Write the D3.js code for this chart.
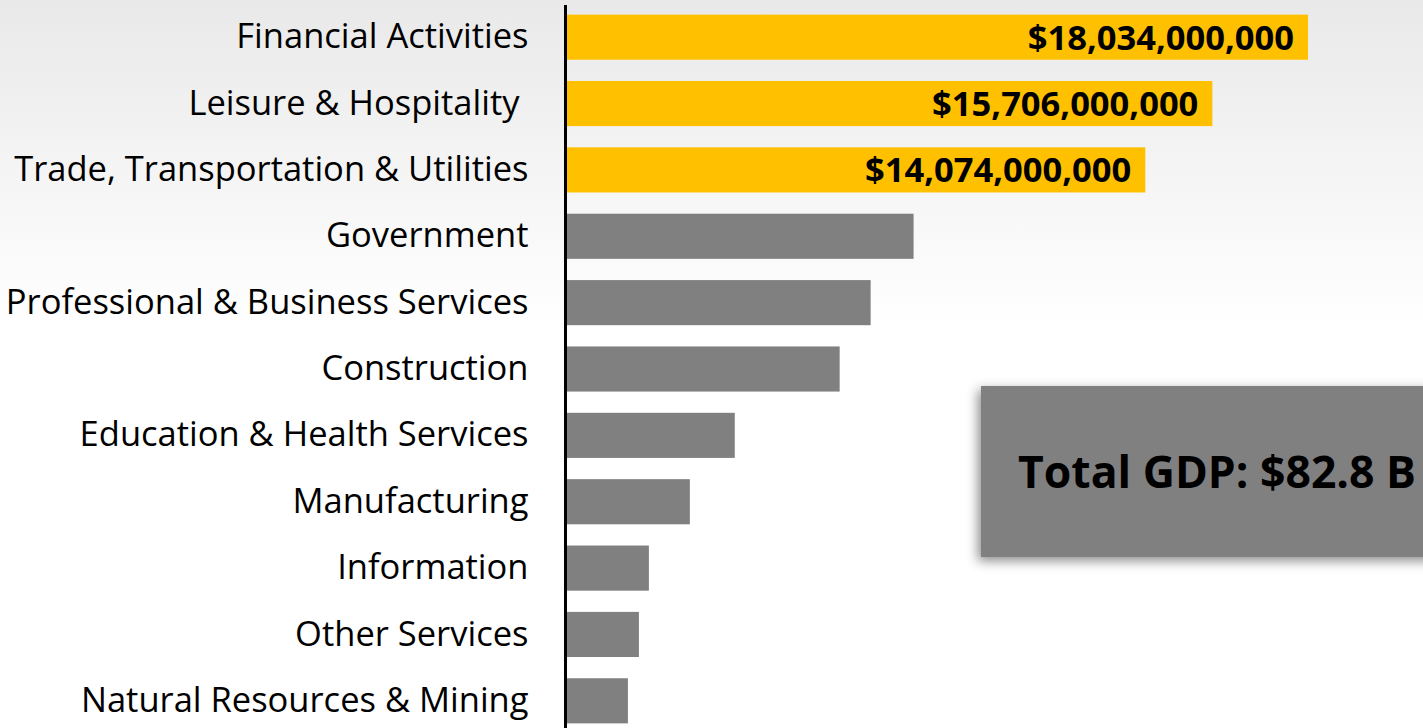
<!DOCTYPE html>
<html>
<head>
<meta charset="utf-8">
<script src="https://cdn.jsdelivr.net/npm/d3@7"></script>
<style>
  body { margin: 0; overflow: hidden; }
</style>
</head>
<body>
<div id="chart"></div>
<script>
// data, in millions of dollars
var sectors = ["Financial Activities", "Leisure & Hospitality ", "Trade, Transportation & Utilities",
  "Government", "Professional & Business Services", "Construction", "Education & Health Services",
  "Manufacturing", "Information", "Other Services", "Natural Resources & Mining"];
var gdp = [18034, 15706, 14074, 8435, 7390, 6636, 4083, 2990, 1993, 1750, 1483];
var highlighted = [true, true, true, false, false, false, false, false, false, false, false];
var totalLabel = "Total GDP: $82.8 B";

var W = 1423, H = 728;
var margin = {top: 4, right: 0, bottom: 0, left: 567};

var svg = d3.select("#chart").append("svg")
    .attr("width", W)
    .attr("height", H);

var defs = svg.append("defs");
var grad = defs.append("linearGradient")
    .attr("id", "bg").attr("x1", 0).attr("y1", 0).attr("x2", 0).attr("y2", 1);
grad.append("stop").attr("offset", "0%").attr("stop-color", "#e9e9e9");
grad.append("stop").attr("offset", "45%").attr("stop-color", "#ffffff");
grad.append("stop").attr("offset", "100%").attr("stop-color", "#ffffff");

var shadow = defs.append("filter").attr("id", "shadow")
    .attr("x", "-20%").attr("y", "-30%").attr("width", "140%").attr("height", "160%");
shadow.append("feDropShadow")
    .attr("dx", -3).attr("dy", 4).attr("stdDeviation", 6)
    .attr("flood-color", "#000").attr("flood-opacity", 0.45);

svg.append("rect").attr("width", W).attr("height", H).attr("fill", "url(#bg)");

var x = d3.scaleLinear().domain([0, 18034]).range([margin.left, 1308]);
var y = d3.scaleBand().domain(sectors).range([margin.top, H + 6]).paddingInner(0.32).paddingOuter(0.16);

// bars
svg.selectAll(".bar")
    .data(sectors)
    .enter().append("rect")
    .attr("class", "bar")
    .attr("x", x(0))
    .attr("y", function(d) { return y(d); })
    .attr("width", function(d, i) { return x(gdp[i]) - x(0); })
    .attr("height", y.bandwidth())
    .attr("fill", function(d, i) { return highlighted[i] ? "#ffc000" : "#808080"; });

// value labels on highlighted bars
svg.selectAll(".val")
    .data(sectors.filter(function(d, i) { return highlighted[i]; }))
    .enter().append("text")
    .attr("x", function(d) { return x(gdp[sectors.indexOf(d)]) - 14; })
    .attr("y", function(d) { return y(d) + y.bandwidth() / 2; })
    .attr("dy", "0.36em")
    .attr("text-anchor", "end")
    .attr("font-family", "Open Sans")
    .attr("font-weight", "bold")
    .attr("font-size", 34.5)
    .attr("fill", "#000")
    .text(function(d) { return "$" + d3.format(",")(gdp[sectors.indexOf(d)] * 1e6); });

// y axis (labels + line)
var yAxis = svg.append("g")
    .attr("transform", "translate(" + (margin.left - 1.5) + ",0)")
    .call(d3.axisLeft(y).tickSize(0).tickPadding(37));
yAxis.select(".domain").attr("d", "M0," + 5 + "V" + H).attr("stroke", "#000").attr("stroke-width", 3);
yAxis.selectAll("text")
    .attr("font-family", "Open Sans")
    .attr("font-size", 34.5)
    .attr("fill", "#000")
    .style("white-space", "pre");

// total box
svg.append("rect")
    .attr("x", 981).attr("y", 386)
    .attr("width", 460).attr("height", 171)
    .attr("fill", "#808080")
    .attr("filter", "url(#shadow)");
svg.append("text")
    .attr("x", 1018).attr("y", 472)
    .attr("dy", "0.36em")
    .attr("font-family", "Open Sans")
    .attr("font-weight", "bold")
    .attr("font-size", 44.5)
    .attr("fill", "#000")
    .text(totalLabel);
</script>
</body>
</html>
